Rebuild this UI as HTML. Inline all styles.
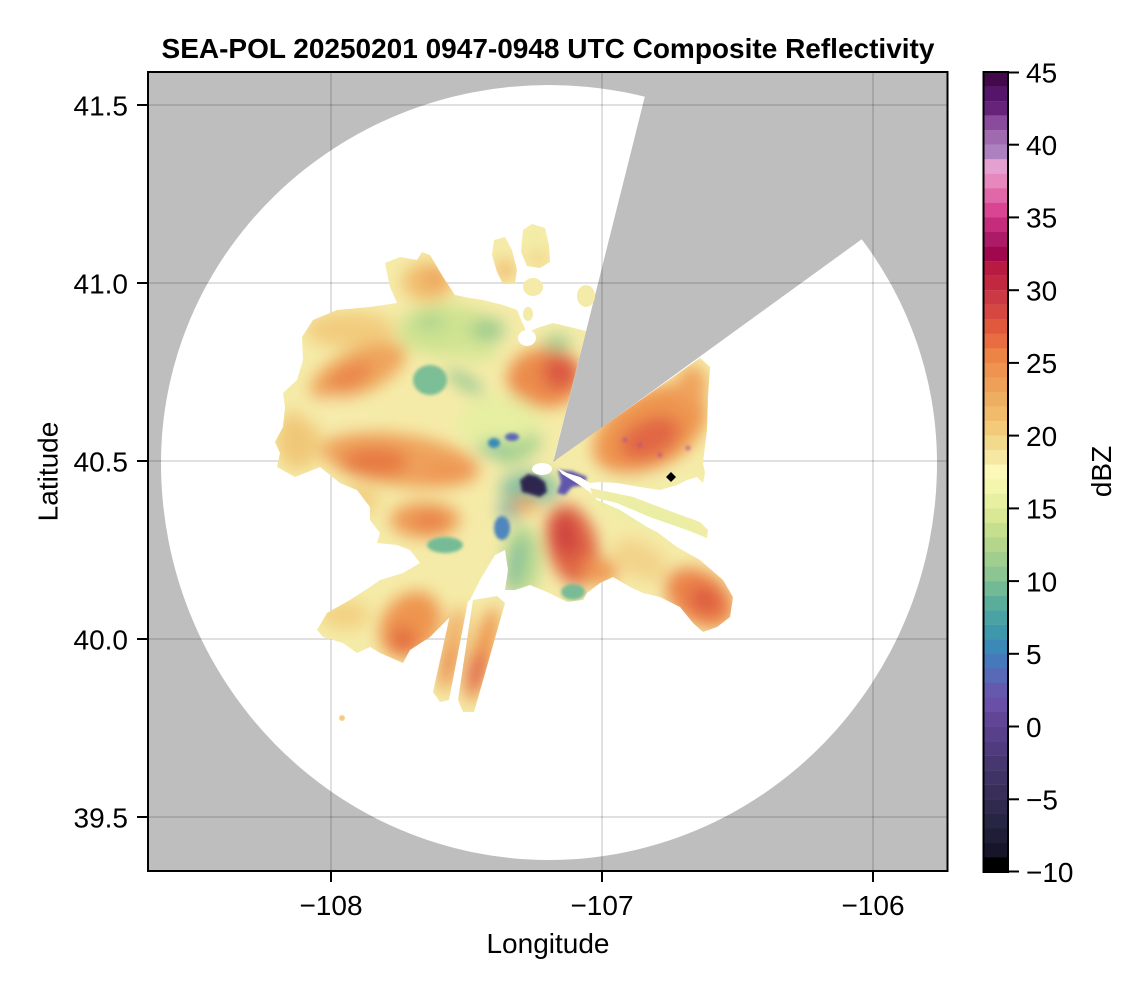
<!DOCTYPE html>
<html>
<head>
<meta charset="utf-8">
<style>
html,body{margin:0;padding:0;background:#fff;}
svg{display:block;}
text{font-family:"Liberation Sans",Arial,sans-serif;fill:#000;}
</style>
</head>
<body>
<svg width="1146" height="990" viewBox="0 0 1146 990" xmlns="http://www.w3.org/2000/svg">
<defs>
  <clipPath id="pc"><rect x="148" y="72" width="800" height="799"/></clipPath>
  <clipPath id="dc">
    <polygon points="385,263 400,257 417,260 422,252 430,255 443,277 455,295 470,298 483,300 503,305 517,310 522,322 527,333 537,328 553,323 570,327 586,331 553,462 562,474 578,484 590,492 597,500 620,510 647,527 657,532 677,547 700,560 723,580 733,597 730,617 717,627 703,632 693,623 680,607 660,597 643,593 630,587 613,577 600,583 587,593 583,600 567,602 547,592 530,585 515,590 505,590 508,570 505,550 495,555 480,580 470,600 450,617 430,637 410,650 403,663 380,653 370,647 357,653 343,643 323,637 317,630 327,613 350,600 370,587 380,580 403,573 420,563 410,550 397,545 377,543 380,533 370,520 370,507 357,490 340,483 320,467 295,477 277,467 280,453 275,442 283,427 285,407 283,393 297,380 303,360 302,337 313,320 337,310 370,307 397,303 390,287"/>
    <polygon points="553,462 700,358 710,367 708,397 707,430 703,463 705,473 703,483 697,477 687,480 677,485 660,490 640,487 617,483 600,482 590,483 580,477 567,473 557,468"/>
    <polygon points="590,488 633,497 667,510 700,522 708,530 707,538 687,530 650,517 617,503 593,497"/>
    <polygon points="494,240 505,237 512,250 517,270 515,283 503,284 497,272 492,255"/>
    <polygon points="523,230 532,224 545,228 549,245 550,262 540,268 527,266 521,252"/>
    <ellipse cx="533" cy="287" rx="10" ry="9"/>
    <ellipse cx="586" cy="296" rx="9" ry="11"/>
    <ellipse cx="528" cy="314" rx="5" ry="7"/>
    <polygon points="452,606 468,601 449,700 440,702 433,692"/>
    <polygon points="473,600 497,596 505,603 474,712 463,712 458,700"/>
    <circle cx="342" cy="718" r="3"/>
  </clipPath>
  <filter id="b" x="-20%" y="-20%" width="140%" height="140%"><feGaussianBlur stdDeviation="8"/></filter>
  <filter id="bs" x="-20%" y="-20%" width="140%" height="140%"><feGaussianBlur stdDeviation="1.5"/></filter>
</defs>

<!-- Title -->
<text x="548" y="58" font-size="28" font-weight="bold" text-anchor="middle">SEA-POL 20250201 0947-0948 UTC Composite Reflectivity</text>

<!-- Plot area -->
<g clip-path="url(#pc)">
  <rect x="148" y="72" width="800" height="799" fill="#bebebe"/>
  <path d="M 161 463 A 388 378 0 0 1 937 463 A 388 397 0 0 1 161 463 Z" fill="#ffffff"/>
  <polygon points="553,463 654,60 960,60 960,168" fill="#bebebe"/>

  <!-- grid -->
  <g stroke="rgba(0,0,0,0.12)" stroke-width="2">
    <line x1="331" y1="72" x2="331" y2="871"/>
    <line x1="602" y1="72" x2="602" y2="871"/>
    <line x1="873" y1="72" x2="873" y2="871"/>
    <line x1="148" y1="105" x2="948" y2="105"/>
    <line x1="148" y1="283" x2="948" y2="283"/>
    <line x1="148" y1="461" x2="948" y2="461"/>
    <line x1="148" y1="639" x2="948" y2="639"/>
    <line x1="148" y1="817" x2="948" y2="817"/>
  </g>

  <!-- radar data -->
  <g clip-path="url(#dc)">
    <rect x="260" y="215" width="490" height="510" fill="#f5eba8"/>
    <g filter="url(#b)">
      <!-- NW lobe -->
      <ellipse cx="428" cy="282" rx="26" ry="20" fill="#f1be70"/>
      <ellipse cx="435" cy="278" rx="12" ry="10" fill="#eea35c"/>
      <!-- islands -->
      <ellipse cx="505" cy="270" rx="9" ry="10" fill="#f0b468"/>
      <ellipse cx="538" cy="258" rx="8" ry="6" fill="#f1c272"/>
      <ellipse cx="533" cy="240" rx="8" ry="8" fill="#eef0a6"/>
      <!-- upper-left warm -->
      <ellipse cx="350" cy="330" rx="45" ry="18" fill="#f2cc7e"/>
      <!-- NW orange band -->
      <ellipse cx="358" cy="372" rx="52" ry="22" transform="rotate(-25 358 372)" fill="#efa45c"/>
      <ellipse cx="350" cy="376" rx="24" ry="10" transform="rotate(-25 350 376)" fill="#e9834a"/>
      <!-- left edge -->
      <ellipse cx="298" cy="440" rx="22" ry="30" fill="#f1c878"/>
      <!-- mid-west pale -->
      <ellipse cx="335" cy="412" rx="35" ry="14" fill="#f6ecac"/>
      <!-- W-center band -->
      <ellipse cx="400" cy="460" rx="80" ry="26" transform="rotate(8 400 460)" fill="#efa25b"/>
      <ellipse cx="375" cy="462" rx="34" ry="15" fill="#e77a43"/>
      <ellipse cx="450" cy="472" rx="28" ry="9" fill="#ee9552"/>
      <!-- SW of center -->
      <ellipse cx="360" cy="500" rx="20" ry="15" fill="#f2d082"/>
      <ellipse cx="425" cy="520" rx="35" ry="18" fill="#ee9a55"/>
      <ellipse cx="430" cy="522" rx="15" ry="9" fill="#e87f46"/>
      <!-- north green -->
      <ellipse cx="445" cy="330" rx="48" ry="26" fill="#cfe391"/>
      <ellipse cx="488" cy="330" rx="17" ry="12" fill="#9fcc8f"/>
      <ellipse cx="430" cy="322" rx="16" ry="8" fill="#acd38e"/>
      <ellipse cx="475" cy="352" rx="24" ry="9" fill="#d7e797"/>
      <ellipse cx="465" cy="382" rx="22" ry="6" transform="rotate(32 465 382)" fill="#8cc592"/>
      <!-- red north of center -->
      <ellipse cx="545" cy="378" rx="38" ry="30" fill="#ec8c4c"/>
      <ellipse cx="560" cy="372" rx="18" ry="18" fill="#dc5842"/>
      <ellipse cx="557" cy="343" rx="14" ry="8" fill="#9ccb8f"/>
      <!-- center -->
      <ellipse cx="500" cy="425" rx="42" ry="30" fill="#e6efa2"/>
      <ellipse cx="520" cy="450" rx="25" ry="10" transform="rotate(-30 520 450)" fill="#a6d290"/>
      <ellipse cx="495" cy="448" rx="18" ry="7" fill="#86c296"/>
      <ellipse cx="530" cy="488" rx="30" ry="16" fill="#86bfa0"/>
      <ellipse cx="510" cy="510" rx="12" ry="10" fill="#7fb4a8"/>
      <ellipse cx="525" cy="505" rx="14" ry="8" fill="#efa45c"/>
      <!-- south center -->
      <ellipse cx="522" cy="560" rx="18" ry="35" fill="#b2d78f"/>
      <ellipse cx="515" cy="565" rx="6" ry="30" transform="rotate(15 515 565)" fill="#79b9a0"/>
      <ellipse cx="572" cy="545" rx="25" ry="42" transform="rotate(-15 572 545)" fill="#e06545"/>
      <ellipse cx="565" cy="535" rx="13" ry="22" transform="rotate(-15 565 535)" fill="#cf4441"/>
      <ellipse cx="600" cy="572" rx="18" ry="14" fill="#ee9a55"/>
      <!-- SW lobe -->
      <ellipse cx="345" cy="615" rx="25" ry="15" fill="#f3d282"/>
      <ellipse cx="410" cy="625" rx="28" ry="36" transform="rotate(35 410 625)" fill="#ee954f"/>
      <ellipse cx="403" cy="640" rx="12" ry="14" fill="#e36b42"/>
      <!-- SSW strips -->
      <ellipse cx="452" cy="650" rx="9" ry="45" transform="rotate(12 452 650)" fill="#efa45c"/>
      <ellipse cx="447" cy="665" rx="6" ry="20" transform="rotate(12 447 665)" fill="#e8834a"/>
      <ellipse cx="482" cy="655" rx="11" ry="50" transform="rotate(15 482 655)" fill="#ee954f"/>
      <ellipse cx="476" cy="672" rx="8" ry="22" transform="rotate(15 476 672)" fill="#e06044"/>
      <!-- NE sector -->
      <ellipse cx="650" cy="430" rx="62" ry="38" transform="rotate(-30 650 430)" fill="#ee954f"/>
      <ellipse cx="650" cy="438" rx="32" ry="19" transform="rotate(-25 650 438)" fill="#e16644"/>
      <ellipse cx="692" cy="385" rx="15" ry="20" fill="#efa25b"/>
      <ellipse cx="640" cy="482" rx="65" ry="7" fill="#f3eeab"/>
      <!-- thin ray -->
      <ellipse cx="650" cy="515" rx="60" ry="10" transform="rotate(20 650 515)" fill="#e6efa2"/>
      <!-- SE region -->
      <ellipse cx="640" cy="560" rx="30" ry="18" transform="rotate(30 640 560)" fill="#f3d38a"/>
      <ellipse cx="700" cy="598" rx="38" ry="26" transform="rotate(35 700 598)" fill="#ec8449"/>
      <ellipse cx="705" cy="600" rx="17" ry="13" transform="rotate(35 705 600)" fill="#de5c42"/>
    </g>
    <g filter="url(#bs)">
      <ellipse cx="430" cy="380" rx="17" ry="15" fill="#7bbe95"/>
      <ellipse cx="445" cy="545" rx="18" ry="8" fill="#74bc96"/>
      <ellipse cx="573" cy="592" rx="12" ry="8" fill="#78bb96"/>
      <ellipse cx="502" cy="528" rx="8" ry="12" fill="#4f86bd"/>
      <ellipse cx="512" cy="437" rx="7" ry="4" fill="#5a68b6"/>
      <ellipse cx="494" cy="443" rx="6" ry="5" fill="#3a8ab5"/>
      <polygon points="520,480 528,474 537,476 545,482 547,492 540,497 530,494 522,492" fill="#2d2850"/>
      <polygon points="558,470 572,471 587,477 584,485 572,487 565,495 557,493 561,482" fill="#6157ad"/>
      <circle cx="640" cy="445" r="2" fill="#b5508f"/>
      <circle cx="660" cy="455" r="2" fill="#b5508f"/>
      <circle cx="625" cy="440" r="2" fill="#b5508f"/>
      <circle cx="688" cy="448" r="2" fill="#b5508f"/>
      <circle cx="342" cy="718" r="3" fill="#f0c070"/>
    </g>
  </g>
  <!-- white holes -->
  <ellipse cx="542" cy="469" rx="10" ry="6" fill="#ffffff"/>
  <ellipse cx="527" cy="338" rx="9" ry="8" fill="#ffffff"/>
  <!-- marker -->
  <polygon points="671,472 676,477 671,482 666,477" fill="#000"/>
</g>
<rect x="148" y="72" width="799.5" height="799" fill="none" stroke="#000" stroke-width="2"/>

<!-- axis ticks -->
<g stroke="#000" stroke-width="2">
  <line x1="137" y1="105" x2="148" y2="105"/>
  <line x1="137" y1="283" x2="148" y2="283"/>
  <line x1="137" y1="461" x2="148" y2="461"/>
  <line x1="137" y1="639" x2="148" y2="639"/>
  <line x1="137" y1="817" x2="148" y2="817"/>
  <line x1="331" y1="871" x2="331" y2="882"/>
  <line x1="602" y1="871" x2="602" y2="882"/>
  <line x1="873" y1="871" x2="873" y2="882"/>
</g>
<g font-size="28" text-anchor="end">
  <text x="128" y="115.5">41.5</text>
  <text x="128" y="293.5">41.0</text>
  <text x="128" y="471.5">40.5</text>
  <text x="128" y="649.5">40.0</text>
  <text x="128" y="827.5">39.5</text>
</g>
<g font-size="28" text-anchor="middle">
  <text x="331" y="915">−108</text>
  <text x="602" y="915">−107</text>
  <text x="873" y="915">−106</text>
</g>
<text x="548" y="953" font-size="28" text-anchor="middle">Longitude</text>
<text transform="translate(57.5 471.5) rotate(-90)" font-size="28" text-anchor="middle">Latitude</text>

<!-- colorbar -->
<g>
  <rect x="983" y="72.00" width="25" height="14.7" fill="#43094a"/>
  <rect x="983" y="86.55" width="25" height="14.7" fill="#55166a"/>
  <rect x="983" y="101.09" width="25" height="14.7" fill="#67237a"/>
  <rect x="983" y="115.64" width="25" height="14.7" fill="#8b4b9d"/>
  <rect x="983" y="130.18" width="25" height="14.7" fill="#9f6aaf"/>
  <rect x="983" y="144.73" width="25" height="14.7" fill="#ad81bf"/>
  <rect x="983" y="159.27" width="25" height="14.7" fill="#e3a0d0"/>
  <rect x="983" y="173.82" width="25" height="14.7" fill="#e688bd"/>
  <rect x="983" y="188.36" width="25" height="14.7" fill="#e068a8"/>
  <rect x="983" y="202.91" width="25" height="14.7" fill="#d94592"/>
  <rect x="983" y="217.45" width="25" height="14.7" fill="#c62c7c"/>
  <rect x="983" y="232.00" width="25" height="14.7" fill="#ad1a68"/>
  <rect x="983" y="246.55" width="25" height="14.7" fill="#a0074c"/>
  <rect x="983" y="261.09" width="25" height="14.7" fill="#b81a42"/>
  <rect x="983" y="275.64" width="25" height="14.7" fill="#c22840"/>
  <rect x="983" y="290.18" width="25" height="14.7" fill="#cb3a44"/>
  <rect x="983" y="304.73" width="25" height="14.7" fill="#d74742"/>
  <rect x="983" y="319.27" width="25" height="14.7" fill="#e0593d"/>
  <rect x="983" y="333.82" width="25" height="14.7" fill="#e86e41"/>
  <rect x="983" y="348.36" width="25" height="14.7" fill="#ec8446"/>
  <rect x="983" y="362.91" width="25" height="14.7" fill="#ee9350"/>
  <rect x="983" y="377.45" width="25" height="14.7" fill="#eea058"/>
  <rect x="983" y="392.00" width="25" height="14.7" fill="#eeae62"/>
  <rect x="983" y="406.55" width="25" height="14.7" fill="#f0bc6c"/>
  <rect x="983" y="421.09" width="25" height="14.7" fill="#f2ca7a"/>
  <rect x="983" y="435.64" width="25" height="14.7" fill="#f3d98b"/>
  <rect x="983" y="450.18" width="25" height="14.7" fill="#f6e8a2"/>
  <rect x="983" y="464.73" width="25" height="14.7" fill="#fbf8b8"/>
  <rect x="983" y="479.27" width="25" height="14.7" fill="#f4f6ad"/>
  <rect x="983" y="493.82" width="25" height="14.7" fill="#e7f0a0"/>
  <rect x="983" y="508.36" width="25" height="14.7" fill="#d9e895"/>
  <rect x="983" y="522.91" width="25" height="14.7" fill="#c6df8e"/>
  <rect x="983" y="537.45" width="25" height="14.7" fill="#b3d68c"/>
  <rect x="983" y="552.00" width="25" height="14.7" fill="#9fce8e"/>
  <rect x="983" y="566.55" width="25" height="14.7" fill="#8cc592"/>
  <rect x="983" y="581.09" width="25" height="14.7" fill="#72ba96"/>
  <rect x="983" y="595.64" width="25" height="14.7" fill="#5aae99"/>
  <rect x="983" y="610.18" width="25" height="14.7" fill="#4aa3a2"/>
  <rect x="983" y="624.73" width="25" height="14.7" fill="#3e97ab"/>
  <rect x="983" y="639.27" width="25" height="14.7" fill="#3a89b7"/>
  <rect x="983" y="653.82" width="25" height="14.7" fill="#4579bc"/>
  <rect x="983" y="668.36" width="25" height="14.7" fill="#5869b7"/>
  <rect x="983" y="682.91" width="25" height="14.7" fill="#6459ac"/>
  <rect x="983" y="697.45" width="25" height="14.7" fill="#6a4fa6"/>
  <rect x="983" y="712.00" width="25" height="14.7" fill="#614698"/>
  <rect x="983" y="726.55" width="25" height="14.7" fill="#58408b"/>
  <rect x="983" y="741.09" width="25" height="14.7" fill="#4f3b7e"/>
  <rect x="983" y="755.64" width="25" height="14.7" fill="#473771"/>
  <rect x="983" y="770.18" width="25" height="14.7" fill="#3f3365"/>
  <rect x="983" y="784.73" width="25" height="14.7" fill="#382e5a"/>
  <rect x="983" y="799.27" width="25" height="14.7" fill="#302a4f"/>
  <rect x="983" y="813.82" width="25" height="14.7" fill="#272544"/>
  <rect x="983" y="828.36" width="25" height="14.7" fill="#1f1e37"/>
  <rect x="983" y="842.91" width="25" height="14.7" fill="#17152a"/>
  <rect x="983" y="857.45" width="25" height="14.55" fill="#000000"/>
</g>
<rect x="983.5" y="72" width="24.5" height="800" fill="none" stroke="#000" stroke-width="2"/>
<g stroke="#000" stroke-width="2">
  <line x1="1008" y1="72.5" x2="1019" y2="72.5"/>
  <line x1="1008" y1="144.7" x2="1019" y2="144.7"/>
  <line x1="1008" y1="217.4" x2="1019" y2="217.4"/>
  <line x1="1008" y1="290.2" x2="1019" y2="290.2"/>
  <line x1="1008" y1="362.9" x2="1019" y2="362.9"/>
  <line x1="1008" y1="435.6" x2="1019" y2="435.6"/>
  <line x1="1008" y1="508.4" x2="1019" y2="508.4"/>
  <line x1="1008" y1="581.1" x2="1019" y2="581.1"/>
  <line x1="1008" y1="653.8" x2="1019" y2="653.8"/>
  <line x1="1008" y1="726.5" x2="1019" y2="726.5"/>
  <line x1="1008" y1="799.3" x2="1019" y2="799.3"/>
  <line x1="1008" y1="871.5" x2="1019" y2="871.5"/>
</g>
<g font-size="28">
  <text x="1026" y="82.5">45</text>
  <text x="1026" y="155">40</text>
  <text x="1026" y="227.5">35</text>
  <text x="1026" y="300.5">30</text>
  <text x="1026" y="373">25</text>
  <text x="1026" y="446">20</text>
  <text x="1026" y="518.5">15</text>
  <text x="1026" y="591.5">10</text>
  <text x="1026" y="664">5</text>
  <text x="1026" y="737">0</text>
  <text x="1026" y="809.5">−5</text>
  <text x="1026" y="882">−10</text>
</g>
<text transform="translate(1111 471.5) rotate(-90)" font-size="28" text-anchor="middle">dBZ</text>
</svg>
</body>
</html>
